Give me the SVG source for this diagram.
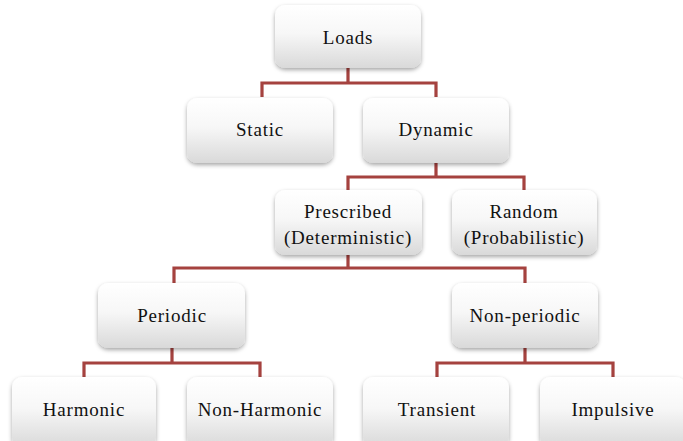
<svg xmlns="http://www.w3.org/2000/svg" width="683" height="441" viewBox="0 0 683 441">
<defs>
<linearGradient id="g" x1="0" y1="0" x2="0" y2="1">
<stop offset="0" stop-color="#ffffff"/>
<stop offset="0.45" stop-color="#f7f7f7"/>
<stop offset="1" stop-color="#d9d9d9"/>
</linearGradient>
<filter id="sh" x="-10%" y="-10%" width="120%" height="130%">
<feDropShadow dx="0" dy="2" stdDeviation="2" flood-color="#000" flood-opacity="0.35"/>
</filter>
</defs>
<style>
.box{fill:url(#g);filter:url(#sh);}
.c{fill:none;stroke:#a5423f;stroke-width:3.2;}
</style>
<rect width="683" height="441" fill="#fff"/>
<g id="connectors">
<path class="c" d="M348 68V83M262 97V83H436V97"/>
<path class="c" d="M436 163V177M348 191V177H524V191"/>
<path class="c" d="M348 255V268M174 283V268H525V283"/>
<path class="c" d="M172 348V363M84 377V363H260V377"/>
<path class="c" d="M525 348V363M437 377V363H613V377"/>
</g>
<g font-family="Liberation Serif, Times New Roman, serif" font-size="19" letter-spacing="0.8" fill="#111" text-anchor="middle">
<g id="loads"><rect class="box" x="275" y="5" width="146" height="63" rx="10"/><text x="348" y="44">Loads</text></g>
<g id="static"><rect class="box" x="187" y="98" width="146" height="65" rx="10"/><text x="260" y="136">Static</text></g>
<g id="dynamic"><rect class="box" x="363" y="98" width="146" height="65" rx="10"/><text x="436" y="136">Dynamic</text></g>
<g id="prescribed"><rect class="box" x="275" y="190" width="147" height="65" rx="10"/><text x="348" y="218">Prescribed</text><text x="348" y="244">(Deterministic)</text></g>
<g id="random"><rect class="box" x="452" y="190" width="145" height="65" rx="10"/><text x="524" y="218">Random</text><text x="524" y="244">(Probabilistic)</text></g>
<g id="periodic"><rect class="box" x="98" y="283" width="147" height="65" rx="10"/><text x="172" y="322">Periodic</text></g>
<g id="nonperiodic"><rect class="box" x="452" y="283" width="146" height="65" rx="10"/><text x="525" y="322">Non-periodic</text></g>
<g id="harmonic"><rect class="box" x="12" y="377" width="144" height="70" rx="10"/><text x="84" y="416">Harmonic</text></g>
<g id="nonharmonic"><rect class="box" x="187" y="377" width="146" height="70" rx="10"/><text x="260" y="416">Non-Harmonic</text></g>
<g id="transient"><rect class="box" x="363" y="377" width="146" height="70" rx="10"/><text x="437" y="416">Transient</text></g>
<g id="impulsive"><rect class="box" x="540" y="377" width="146" height="70" rx="10"/><text x="613" y="416">Impulsive</text></g>
</g>
</svg>
